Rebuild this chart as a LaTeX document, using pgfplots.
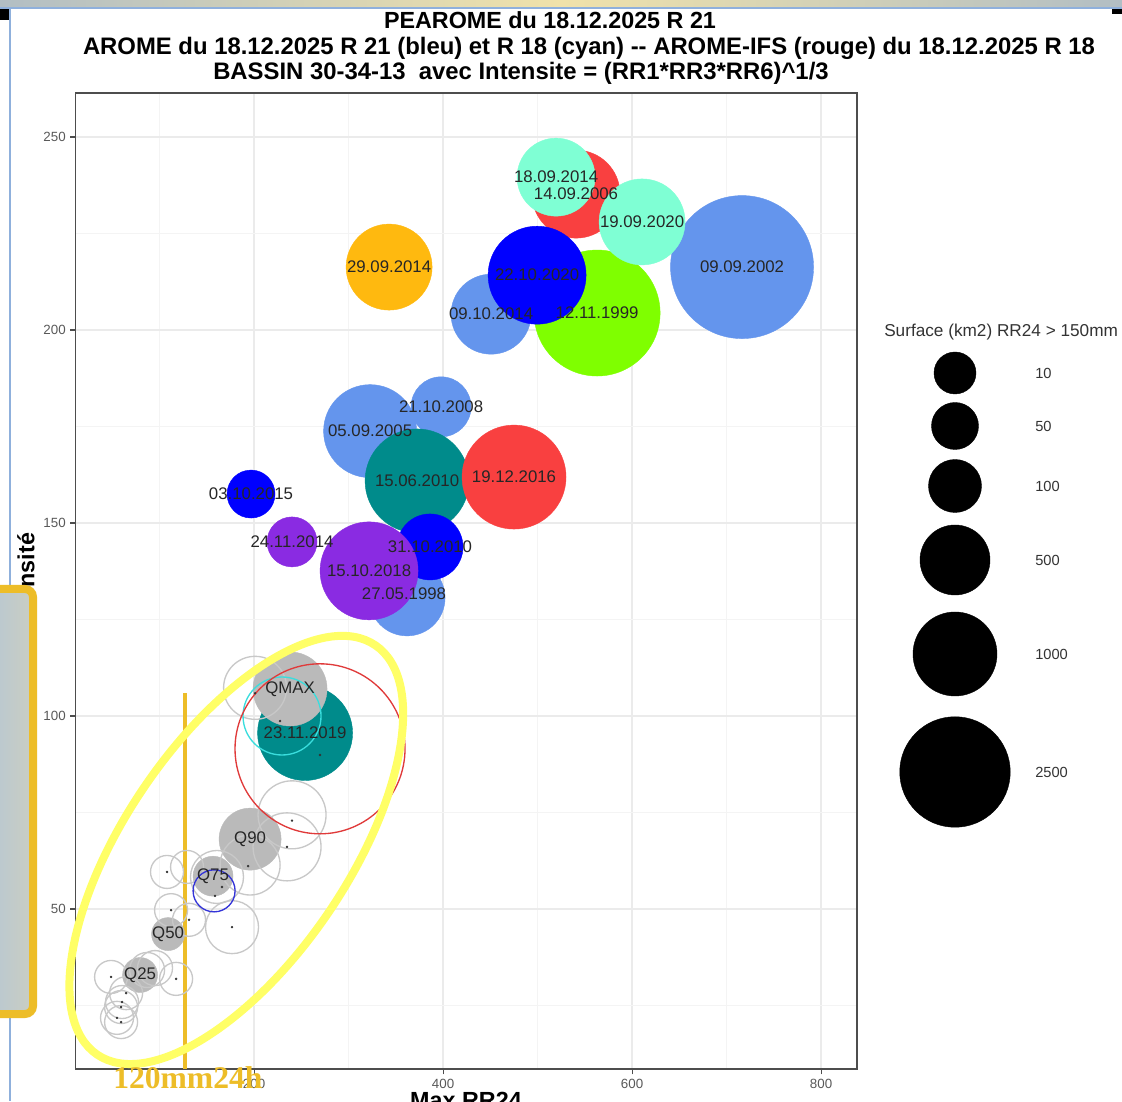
\documentclass[border=0pt]{standalone}
\usepackage{fontspec}
\setmainfont{Liberation Sans}
\newfontfamily\annotfont{Liberation Serif}
\usepackage{pgfplots}
\usepackage{pgfplotstable}
\pgfplotsset{compat=1.18}

\definecolor{cornflower}{HTML}{6495ED}
\definecolor{rred}{HTML}{F94040}
\definecolor{aqua}{HTML}{7FFFD4}
\definecolor{chart}{HTML}{7FFF00}
\definecolor{amber}{HTML}{FFB90F}
\definecolor{dcyan}{HTML}{008B8B}
\definecolor{bviolet}{HTML}{8A2BE2}
\definecolor{qgray}{HTML}{BABABA}
\definecolor{ogray}{HTML}{C8C8C8}
\definecolor{ifsred}{HTML}{E03A3A}
\definecolor{r18cyan}{HTML}{3ADDDD}
\definecolor{r21blue}{HTML}{3434D8}
\definecolor{hlyellow}{HTML}{FFFF66}
\definecolor{hlorange}{HTML}{EDBD28}
\definecolor{framegray}{HTML}{4D4D4D}
\definecolor{winblue}{HTML}{8FB0DC}
\definecolor{bargray}{HTML}{B2BEC4}
\definecolor{barcream}{HTML}{F0E2AA}
\definecolor{boxblue}{HTML}{B4C6D6}
\definecolor{boxgray}{HTML}{CACEC2}

% bubbles: x = Max RR24, y = intensite, d = diameter (px of the reference)
\pgfplotstableread{
x y d
716.4 216.3 143
450.8 204.1 80
397.9 180.1 60
322.8 173.8 93
361.9 130.6 76
}\cornflowerpts
\pgfplotstableread{
x y d
563.0 204.4 126
}\chartpts
\pgfplotstableread{
x y d
342.9 216.3 86
}\amberpts
\pgfplotstableread{
x y d
372.5 160.9 104
254.0 95.6 95
}\dcyanpts
\pgfplotstableread{
x y d
540.7 235.2 88
475.1 161.9 104
}\redpts
\pgfplotstableread{
x y d
519.6 239.6 78
610.6 228.0 86
}\aquapts
\pgfplotstableread{
x y d
499.5 214.2 98
196.8 157.5 48
386.2 143.8 66
}\bluepts
\pgfplotstableread{
x y d
240.2 145.1 50
321.7 137.6 98
}\violetpts
\pgfplotstableread{
x y d
238.1 107.0 74
195.8 68.1 62
156.6 58.5 40
109.0 43.5 33
79.4 32.9 35
}\quantpts
\pgfplotstableread{
x y d
201.1 107.3 63
240.2 74.4 68
234.9 66.1 68
195.8 61.4 60
160.8 58.3 53
176.7 45.3 53
107.9 59.6 33
129.1 60.9 33
112.2 49.7 33
131.2 47.2 33
48.7 32.4 33
117.5 31.9 33
86.8 34.2 35
95.2 34.7 35
64.6 28.2 33
60.3 25.9 33
59.3 24.6 33
55.0 21.8 33
59.3 20.7 33
}\memberpts
\pgfplotstableread{
x y
201.1 105.9
240.2 72.9
234.9 66.1
193.7 61.1
158.7 53.4
166.1 55.7
176.7 45.3
107.9 59.6
112.2 49.7
131.2 47.2
48.7 32.4
117.5 31.9
64.6 28.2
60.3 25.9
59.3 24.6
55.0 21.8
59.3 20.7
269.8 89.9
227.5 98.7
}\dotpts
\pgfplotstableread{
x y name
716.4 216.3 09.09.2002
450.8 204.1 09.10.2014
397.9 180.1 21.10.2008
322.8 173.8 05.09.2005
358.7 131.6 27.05.1998
499.5 214.2 22.10.2020
196.8 157.5 03.10.2015
386.2 143.8 31.10.2010
540.7 235.2 14.09.2006
475.1 161.9 19.12.2016
519.6 239.6 18.09.2014
610.6 228.0 19.09.2020
563.0 204.4 12.11.1999
342.9 216.3 29.09.2014
372.5 160.9 15.06.2010
254.0 95.6 23.11.2019
240.2 145.1 24.11.2014
321.7 137.6 15.10.2018
238.1 107.0 QMAX
195.8 68.1 Q90
156.6 58.5 Q75
109.0 43.5 Q50
79.4 32.9 Q25
}\labelpts
\pgfplotstableread{
x y d name
955 -373 42 10
955 -426 47 50
955 -486 53 100
955 -560 70 500
955 -654 84 1000
955 -772 110.5 2500
}\sizelegend

% use mapped color first: it redefines the pre marker code
\pgfplotsset{
  bubble/.style={scatter, only marks, mark=*, line width=0.3pt,
    scatter/use mapped color={draw=#1, fill=#1},
    point meta=\thisrow{d},
    visualization depends on={0.375*\thisrow{d} \as \rr},
    scatter/@pre marker code/.append style={/tikz/mark size=\rr}},
  ring/.style={scatter, only marks, mark=o, line width=1pt,
    scatter/use mapped color={draw=#1},
    point meta=\thisrow{d},
    visualization depends on={0.375*\thisrow{d} \as \rr},
    scatter/@pre marker code/.append style={/tikz/mark size=\rr}},
}

\begin{document}
\begin{tikzpicture}
\useasboundingbox (0,0) rectangle (841.5pt,825.75pt);
\fill[white] (0,0) rectangle (841.5pt,825.75pt);

\begin{axis}[
  at={(56.8pt,24pt)}, anchor=south west,
  scale only axis, width=586pt, height=732pt,
  xmin=11.3, xmax=838.1, ymin=8.55, ymax=261.4,
  xtick={200,400,600,800}, ytick={50,100,150,200,250},
  minor xtick={100,300,500,700}, minor ytick={25,75,125,175,225},
  grid=both,
  major grid style={draw=gray!16, line width=0.9pt},
  minor grid style={draw=gray!9, line width=0.5pt},
  tick pos=left, tick align=outside,
  major tick length=4pt, minor tick length=0pt,
  tick style={framegray, line width=0.8pt},
  axis line style={framegray, line width=1.1pt},
  tick label style={font=\fontsize{10}{12}\selectfont, text=gray!70!black},
  /pgf/number format/assume math mode=true,
  clip=false,
]
\addplot[bubble=cornflower] table {\cornflowerpts};
\addplot[bubble=chart] table {\chartpts};
\addplot[bubble=amber] table {\amberpts};
\addplot[bubble=dcyan] table {\dcyanpts};
\addplot[bubble=rred] table {\redpts};
\addplot[bubble=aqua] table {\aquapts};
\addplot[bubble=blue] table {\bluepts};
\addplot[bubble=bviolet] table {\violetpts};
\addplot[bubble=qgray] table {\quantpts};
\addplot[ring=ogray] table {\memberpts};
% AROME R21 (bleu), R18 (cyan), AROME-IFS (rouge)
\addplot[ring=r21blue] table {
x y d
157.7 54.7 42
};
\addplot[ring=r18cyan] table {
x y d
229.6 100.0 78
};
\addplot[ring=ifsred] table {
x y d
269.8 91.5 170
};
\addplot[only marks, mark=*, mark size=0.7pt, black!80] table {\dotpts};
\addplot[only marks, mark=none, nodes near coords, point meta=explicit symbolic,
  nodes near coords style={anchor=center, inner sep=0pt, text=black!85,
    font=\fontsize{12.6}{14}\selectfont}]
  table[meta=name] {\labelpts};
% seuil 120 mm / 24 h
\addplot[hlorange, line width=3pt] coordinates {(127,8.55) (127,106)};
\coordinate (ec) at (axis cs:181.2,65.3);
\end{axis}

% legende des tailles
\begin{axis}[
  at={(645pt,0pt)}, anchor=south west,
  scale only axis, width=196.5pt, height=825.75pt,
  xmin=860, xmax=1122, ymin=-1101, ymax=0,
  hide axis, clip=false,
]
\addplot[bubble=black] table {\sizelegend};
\addplot[only marks, mark=none, nodes near coords, point meta=explicit symbolic,
  nodes near coords style={anchor=west, inner sep=0pt, xshift=60pt,
    text=black!80, font=\fontsize{11}{13}\selectfont}]
  table[meta=name] {\sizelegend};
\node[anchor=west, inner sep=0pt, text=black!80, font=\fontsize{12.9}{15}\selectfont]
  at (axis cs:884,-332) {Surface (km2) RR24 > 150mm};
\end{axis}

% ellipse jaune
\begin{scope}[shift={(ec)}, rotate=55.8]
  \draw[hlyellow, line width=6pt] (0,0) ellipse [x radius=185.6pt, y radius=83.6pt];
\end{scope}

% titres et habillage (coordonnees en px de la capture)
\begin{scope}[x=0.75pt, y=-0.75pt, shift={(0pt,825.75pt)}]
  \node[anchor=base, inner sep=0pt, font=\fontsize{17.5}{21}\selectfont\bfseries]
    at (550,29) {PEAROME du 18.12.2025 R 21};
  \node[anchor=base, inner sep=0pt, font=\fontsize{17.9}{21}\selectfont\bfseries]
    at (589,55) {AROME du 18.12.2025 R 21 (bleu) et R 18 (cyan) -{}- AROME-IFS (rouge) du 18.12.2025 R 18};
  \node[anchor=base, inner sep=0pt, font=\fontsize{17.9}{21}\selectfont\bfseries]
    at (521,80) {BASSIN 30-34-13\ \ avec Intensite = (RR1*RR3*RR6)\textasciicircum 1/3};
  \node[anchor=north, inner sep=0pt, font=\fontsize{17.5}{21}\selectfont\bfseries]
    at (466,1092) {Max RR24};
  \node[rotate=90, inner sep=0pt, font=\fontsize{17.5}{21}\selectfont\bfseries]
    at (26,581) {Intensité};
  % bandeau haut de la capture
  \shade[left color=bargray, right color=barcream] (0,0) rectangle (561,7);
  \shade[left color=barcream, right color=bargray] (561,0) rectangle (1122,7);
  \draw[winblue, line width=1.5pt] (0,8) -- (1122,8);
  \draw[winblue, line width=1.2pt] (10,8) -- (10,1101);
  \fill[black] (0,9) rectangle (9,20);
  \fill[black] (1112,9) rectangle (1122,14);
  % cadre orange a gauche
  \shade[left color=boxblue, right color=boxgray, rounded corners=6pt] (-20,589) rectangle (33,1014);
  \draw[hlorange, line width=6pt, rounded corners=6pt] (-20,589) rectangle (33,1014);
  \node[anchor=base west, inner sep=0pt, text=hlorange, font=\annotfont\fontsize{23.7}{26}\selectfont\bfseries]
    at (113,1088) {120mm24h};
\end{scope}
\end{tikzpicture}
\end{document}
